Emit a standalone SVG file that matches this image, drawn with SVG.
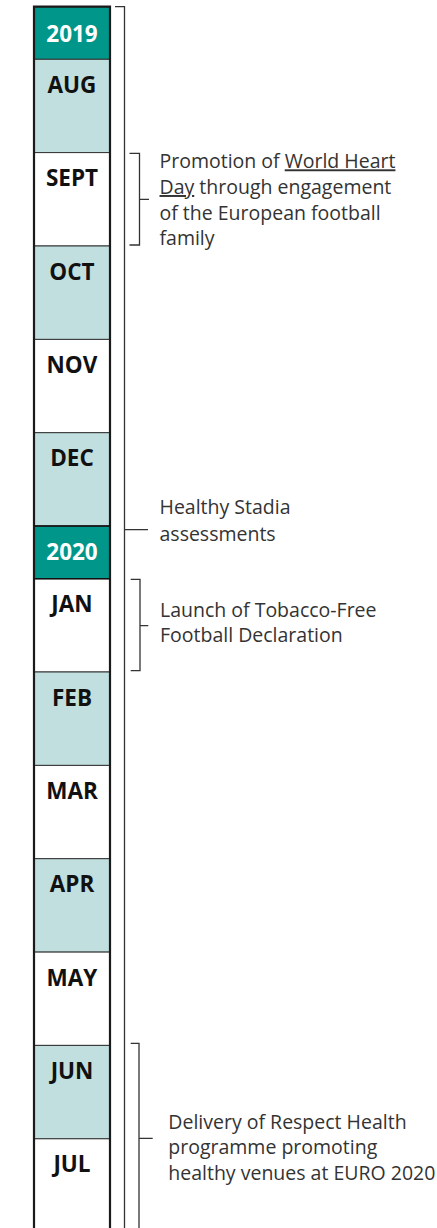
<svg xmlns="http://www.w3.org/2000/svg" width="437" height="1228" viewBox="0 0 437 1228">
<style>
.yr{fill:#00968A}
.lt{fill:#C1DFDF}
.wt{fill:#FFFFFF}
.cell{stroke:#333;stroke-width:1}
.ylab{font-family:"Open Sans","Noto Sans",sans-serif;font-weight:bold;font-size:22.5px;fill:#FFFFFF;text-anchor:middle}
.mlab{font-family:"Open Sans","Noto Sans",sans-serif;font-weight:bold;font-size:22.5px;fill:#111;text-anchor:middle}
.note{font-family:"Open Sans","Noto Sans",sans-serif;font-size:19.5px;fill:#333}
.br{fill:none;stroke:#333;stroke-width:1.3}
.u{text-decoration:underline}
</style>
<rect x="0" y="0" width="437" height="1228" fill="#FFFFFF"/>
<g id="timeline">
<g id="y2019"><rect class="yr cell" x="34" y="6.7" width="76" height="52.6"/><text class="ylab" x="72" y="41.5">2019</text></g>
<g id="aug"><rect class="lt cell" x="34" y="59.3" width="76" height="93.3"/><text class="mlab" x="72" y="92.8">AUG</text></g>
<g id="sept"><rect class="wt cell" x="34" y="152.6" width="76" height="93.4"/><text class="mlab" x="72" y="186.1">SEPT</text></g>
<g id="oct"><rect class="lt cell" x="34" y="246" width="76" height="93.4"/><text class="mlab" x="72" y="279.5">OCT</text></g>
<g id="nov"><rect class="wt cell" x="34" y="339.4" width="76" height="93.3"/><text class="mlab" x="72" y="372.9">NOV</text></g>
<g id="dec"><rect class="lt cell" x="34" y="432.7" width="76" height="93.4"/><text class="mlab" x="72" y="466.2">DEC</text></g>
<g id="y2020"><rect class="yr cell" x="34" y="526.1" width="76" height="52.6"/><text class="ylab" x="72" y="560">2020</text></g>
<g id="jan"><rect class="wt cell" x="34" y="578.7" width="76" height="93.3"/><text class="mlab" x="72" y="612.2">JAN</text></g>
<g id="feb"><rect class="lt cell" x="34" y="672" width="76" height="93.4"/><text class="mlab" x="72" y="705.5">FEB</text></g>
<g id="mar"><rect class="wt cell" x="34" y="765.4" width="76" height="93.3"/><text class="mlab" x="72" y="798.9">MAR</text></g>
<g id="apr"><rect class="lt cell" x="34" y="858.7" width="76" height="93.4"/><text class="mlab" x="72" y="892.2">APR</text></g>
<g id="may"><rect class="wt cell" x="34" y="952.1" width="76" height="93.3"/><text class="mlab" x="72" y="985.6">MAY</text></g>
<g id="jun"><rect class="lt cell" x="34" y="1045.4" width="76" height="93.4"/><text class="mlab" x="72" y="1078.9">JUN</text></g>
<g id="jul"><rect class="wt cell" x="34" y="1138.8" width="76" height="100"/><text class="mlab" x="72" y="1172.3">JUL</text></g>
<path d="M34 1240 V6.7 H110 V1240" fill="none" stroke="#1a1a1a" stroke-width="2.2"/>
<line x1="34" y1="526.1" x2="110" y2="526.1" stroke="#111" stroke-width="1.5"/>
<line x1="34" y1="578.7" x2="110" y2="578.7" stroke="#111" stroke-width="1.5"/>
</g>
<g id="connectors">
<path class="br" d="M115 6.7 H124.5 V1240 M124.5 529.7 H148"/>
<path class="br" d="M129.5 153.3 H139.5 V245 H129.5 M139.5 199.3 H149"/>
<path class="br" d="M130.7 579.3 H140 V670.7 H130.7 M140 625.7 H148.3"/>
<path class="br" d="M130.7 1043.3 H139 V1240 M139 1138.3 H152.7"/>
</g>
<g id="note-worldheart">
<text class="note" x="159.5" y="168.3">Promotion of <tspan class="u">World Heart</tspan></text>
<text class="note" x="159.5" y="194"><tspan class="u">Day</tspan> through engagement</text>
<text class="note" x="159.5" y="219.7">of the European football</text>
<text class="note" x="159.5" y="245.4">family</text>
</g>
<g id="note-stadia">
<text class="note" x="159.5" y="514.3">Healthy Stadia</text>
<text class="note" x="159.5" y="541">assessments</text>
</g>
<g id="note-tobacco">
<text class="note" x="160" y="616.7">Launch of Tobacco-Free</text>
<text class="note" x="160" y="642.3">Football Declaration</text>
</g>
<g id="note-respect">
<text class="note" x="168.3" y="1128.5">Delivery of Respect Health</text>
<text class="note" x="168.3" y="1154.3">programme promoting</text>
<text class="note" x="168.3" y="1180">healthy venues at EURO 2020</text>
</g>
</svg>
